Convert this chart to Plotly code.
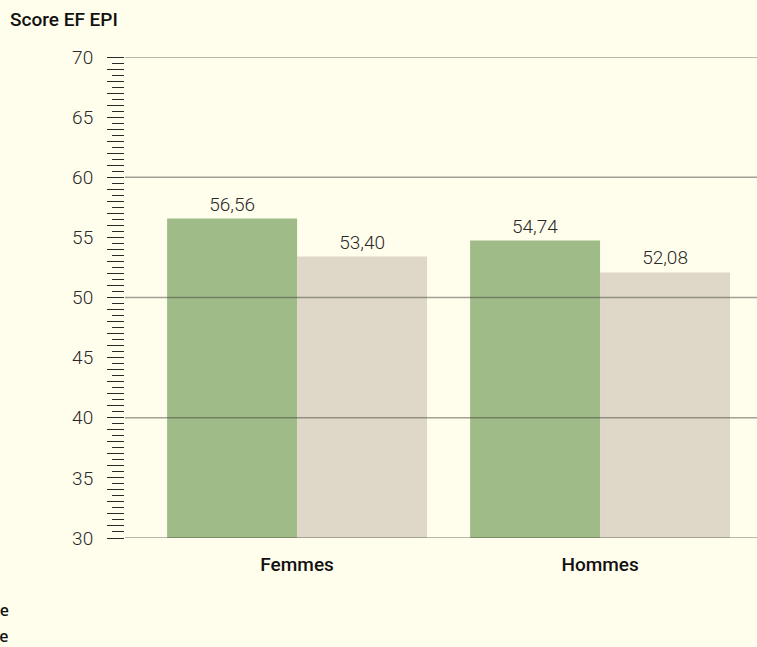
import plotly.graph_objects as go

categories = ["Femmes", "Hommes"]
series_names = ["France", "Moyenne mondiale"]
values_green = [56.56, 54.74]
values_beige = [53.40, 52.08]
y_range = [30, 70]
grid_values = [30, 40, 50, 60, 70]

BG = "#FFFDEC"
GREEN = "#9FBB88"
BEIGE = "#DFD8C8"
TXT = "#2a2a2a"
FONT = "Roboto"

fig = go.Figure()
for name, vals, col in [(series_names[0], values_green, GREEN),
                        (series_names[1], values_beige, BEIGE)]:
    fig.add_trace(go.Bar(
        x=categories, y=vals, name=name,
        marker=dict(color=col, line=dict(width=0)),
        texttemplate="%{y:.2f}", textposition="outside", cliponaxis=False,
        textfont=dict(family=FONT, size=19, color=TXT, weight=300),
    ))
# invisible trace to activate the secondary (long-tick) axis
fig.add_trace(go.Scatter(x=categories, y=values_green, yaxis="y2",
                         mode="markers", marker=dict(opacity=0),
                         showlegend=False, hoverinfo="skip"))

for g in grid_values:
    fig.add_shape(type="line", xref="paper", x0=0, x1=1, yref="y", y0=g, y1=g,
                  line=dict(color="rgba(70,70,60,0.5)", width=1.3), layer="above")

for i, nm in enumerate(series_names):
    fig.add_annotation(text=nm, xref="paper", yref="paper",
                       x=(11 - 125) / 632, y=(538 - (610 + 26 * i)) / 480,
                       xanchor="right", yanchor="middle", showarrow=False,
                       font=dict(family="Open Sans", size=16, color="#111", weight=600))

fig.update_layout(
    width=757, height=647,
    paper_bgcolor=BG, plot_bgcolor=BG,
    margin=dict(l=125, r=0, t=57, b=109, autoexpand=False),
    separators=", ",
    barmode="group", bargap=0.142, bargroupgap=0,
    showlegend=False,
    title=dict(text="Score EF EPI", xref="container", yref="container",
               x=10 / 757, y=1 - 19 / 647, xanchor="left", yanchor="middle",
               font=dict(family=FONT, size=19, color="#111", weight=500)),
    xaxis=dict(range=[-0.568, 1.518], showgrid=False, zeroline=False,
               showline=False, ticks="", ticklabelstandoff=13,
               tickfont=dict(family=FONT, size=19, color="#111", weight=500)),
    yaxis=dict(range=y_range, dtick=5, tick0=30, showgrid=False, zeroline=False,
               showline=False, ticks="outside", ticklen=17, tickwidth=1,
               tickcolor=TXT, ticklabelstandoff=10,
               tickfont=dict(family=FONT, size=19, color=TXT, weight=300),
               minor=dict(dtick=0.5, tick0=30, ticks="outside", ticklen=12,
                          tickwidth=1, tickcolor=TXT, showgrid=False)),
    yaxis2=dict(range=y_range, dtick=1, tick0=30, overlaying="y", side="left",
                anchor="x", showgrid=False, zeroline=False, showline=False,
                ticks="outside", ticklen=17, tickwidth=1, tickcolor=TXT,
                showticklabels=False),
)

fig.write_html("out.html", config={"displayModeBar": False},
               post_script="document.body.style.margin='0';")
